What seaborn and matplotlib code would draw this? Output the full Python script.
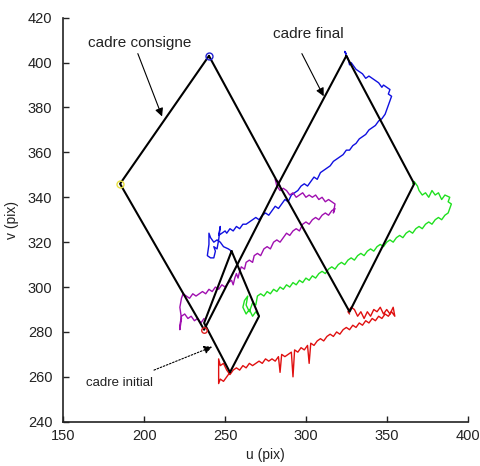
import matplotlib
matplotlib.use("Agg")
import matplotlib.pyplot as plt
import seaborn as sns
import pandas as pd

# Image-plane frames (u, v in pixels), closed quadrilaterals
consigne_u = [240, 283, 237, 185, 240]
consigne_v = [403, 346, 281, 346, 403]
final_u = [325, 367, 327, 283, 325]
final_v = [403, 346, 289, 346, 403]
initial_u = [254, 271, 253, 237, 254]
initial_v = [316, 287, 262, 284, 316]

# Tracked feature-point trajectories
blue_u = [254, 252, 249, 247, 245, 243, 241, 240, 240, 239, 241, 243, 244, 243, 245, 246, 247, 246, 248, 250,
          251, 253, 255, 257, 259, 261, 263, 265, 267, 269, 271, 273, 275, 277, 279, 281, 283, 285, 287, 289,
          291, 293, 295, 297, 299, 301, 303, 305, 307, 309, 311, 313, 315, 317, 319, 321, 323, 325, 327, 329,
          331, 333, 335, 337, 339, 341, 343, 345, 347, 349, 350, 351, 352, 353, 351, 352, 350, 348, 347, 345,
          343, 341, 339, 337, 335, 333, 331, 329, 328, 327, 326, 325, 324, 325]
blue_v = [316, 317, 318, 320, 321, 320, 322, 324, 319, 314, 313, 313, 316, 318, 317, 321, 327, 323, 324, 325,
          324, 326, 325, 327, 326, 328, 328, 329, 330, 331, 330, 332, 333, 332, 334, 336, 335, 337, 339, 338,
          341, 342, 343, 345, 346, 345, 347, 349, 348, 351, 352, 353, 354, 356, 357, 358, 359, 361, 361, 363,
          364, 366, 367, 368, 370, 371, 372, 374, 375, 377, 379, 381, 383, 385, 386, 388, 389, 390, 389, 391,
          392, 393, 394, 393, 395, 396, 397, 399, 400, 399, 402, 403, 405, 404]

magenta_u = [237, 235, 233, 231, 229, 227, 225, 223, 222, 222, 223, 222, 223, 224, 226, 228, 230, 232, 234, 236,
             238, 240, 242, 244, 246, 248, 250, 252, 254, 255, 256, 257, 258, 259, 260, 262, 263, 265, 267, 268,
             270, 272, 274, 276, 278, 280, 282, 284, 286, 288, 290, 292, 294, 296, 298, 300, 302, 304, 306, 308,
             310, 312, 314, 316, 318, 317, 318, 316, 314, 312, 310, 308, 306, 304, 302, 300, 298, 296, 294, 292,
             290, 288, 286, 284, 282, 281, 283, 284]
magenta_v = [286, 284, 286, 285, 287, 286, 288, 287, 283, 281, 286, 291, 295, 297, 296, 295, 297, 296, 297, 298,
             297, 299, 298, 300, 299, 301, 300, 302, 303, 301, 304, 306, 304, 307, 309, 308, 311, 312, 311, 314,
             315, 314, 317, 318, 317, 320, 321, 320, 322, 324, 323, 325, 326, 325, 328, 329, 328, 330, 331, 330,
             332, 333, 332, 334, 335, 333, 337, 338, 339, 338, 340, 339, 341, 340, 341, 340, 342, 341, 340, 342,
             341, 343, 344, 343, 345, 348, 347, 345]

green_u = [271, 269, 267, 265, 263, 261, 262, 264, 263, 265, 267, 269, 270, 272, 274, 276, 278, 280, 282, 284,
           286, 288, 290, 292, 294, 296, 298, 300, 302, 304, 306, 308, 310, 312, 314, 316, 318, 320, 322, 324,
           326, 328, 330, 332, 334, 336, 338, 340, 342, 344, 346, 348, 350, 352, 354, 356, 358, 360, 362, 364,
           366, 368, 370, 372, 374, 376, 378, 380, 382, 384, 386, 388, 389, 390, 388, 389, 386, 384, 382, 380,
           378, 376, 374, 372, 370, 369, 367, 366]
green_v = [287, 289, 287, 290, 288, 291, 294, 296, 292, 289, 293, 292, 296, 297, 296, 298, 297, 299, 298, 300,
           299, 301, 300, 302, 301, 303, 302, 304, 303, 305, 304, 306, 307, 306, 308, 309, 308, 310, 311, 310,
           312, 313, 312, 314, 315, 314, 316, 317, 316, 318, 319, 318, 320, 321, 320, 322, 323, 322, 324, 325,
           324, 326, 327, 326, 328, 329, 328, 330, 331, 330, 332, 333, 335, 337, 338, 340, 341, 339, 342, 341,
           343, 340, 342, 341, 343, 345, 347, 346]

red_u = [253, 251, 249, 247, 246, 246, 246, 247, 249, 251, 253, 255, 257, 259, 261, 263, 265, 267, 269, 271,
         273, 275, 277, 279, 281, 283, 284, 285, 287, 289, 291, 292, 293, 295, 297, 299, 301, 302, 303, 305,
         307, 309, 311, 313, 315, 317, 319, 321, 323, 325, 327, 329, 331, 333, 335, 337, 339, 341, 343, 345,
         347, 349, 351, 353, 355, 354, 352, 350, 348, 346, 344, 342, 340, 338, 336, 334, 332, 330, 328, 326,
         327]
red_v = [262, 260, 258, 259, 257, 262, 268, 265, 266, 263, 261, 263, 264, 263, 265, 264, 266, 265, 266, 267,
         266, 268, 267, 268, 267, 269, 262, 270, 269, 270, 271, 260, 272, 271, 273, 272, 274, 266, 275, 274,
         276, 277, 276, 278, 279, 278, 280, 279, 281, 282, 281, 283, 282, 284, 283, 285, 284, 286, 285, 287,
         286, 288, 287, 289, 287, 291, 288, 290, 288, 291, 289, 290, 287, 289, 286, 289, 287, 290, 291, 289,
         288]

x_ticks = [150, 200, 250, 300, 350, 400]
y_ticks = [240, 260, 280, 300, 320, 340, 360, 380, 400, 420]

sns.set_theme(style="white")
plt.rcParams["font.family"] = ["Liberation Sans", "DejaVu Sans"]

fig = plt.figure(figsize=(4.81, 4.66), dpi=100)
ax = fig.add_axes([0.132, 0.095, 0.840, 0.867])

trajectories = [
    (blue_u, blue_v, "#1010e0"),
    (magenta_u, magenta_v, "#a010b0"),
    (green_u, green_v, "#20e020"),
    (red_u, red_v, "#e01010"),
]
for u, v, col in trajectories:
    df = pd.DataFrame({"u": u, "v": v})
    sns.lineplot(data=df, x="u", y="v", sort=False, estimator=None, color=col,
                 linewidth=1.0, ax=ax)

for u, v in [(consigne_u, consigne_v), (final_u, final_v), (initial_u, initial_v)]:
    df = pd.DataFrame({"u": u, "v": v})
    sns.lineplot(data=df, x="u", y="v", sort=False, estimator=None, color="black",
                 linewidth=1.5, ax=ax)

# desired-frame point markers
ax.plot(consigne_u[0], consigne_v[0], "o", mfc="none", mec="#2020d0", ms=5, mew=1)
ax.plot(consigne_u[3], consigne_v[3], "o", mfc="none", mec="#e8e040", ms=5, mew=1)
ax.plot(consigne_u[2], consigne_v[2], "o", mfc="none", mec="#e02020", ms=4, mew=1)

txt_kw = dict(color="#222222", ha="center", va="center")
arrow = dict(arrowstyle="-|>", color="black", lw=0.8, mutation_scale=12, shrinkA=0, shrinkB=0)

ax.text(197, 408.6, "cadre consigne", fontsize=11, **txt_kw)
ax.annotate("", xy=(211, 376), xytext=(196, 404), arrowprops=arrow)

ax.text(301.5, 412.6, "cadre final", fontsize=11, **txt_kw)
ax.annotate("", xy=(311, 385), xytext=(297.5, 404), arrowprops=arrow)

ax.text(184.7, 257.2, "cadre initial", fontsize=9.5, **txt_kw)
ax.annotate("", xy=(242, 273.4), xytext=(206, 263),
            arrowprops=dict(arrow, linestyle=(0, (1.5, 1.5))))

ax.set_xlim(150, 400)
ax.set_ylim(240, 420)
ax.set_xticks(x_ticks)
ax.set_yticks(y_ticks)
ax.set_xlabel("u (pix)", fontsize=10, labelpad=4, color="#222222")
ax.set_ylabel("v (pix)", fontsize=10, labelpad=6, color="#222222")
ax.tick_params(axis="both", direction="in", length=4, width=1, labelsize=10.5,
               colors="#222222", left=True, bottom=True)
ax.tick_params(axis="x", pad=5)
ax.tick_params(axis="y", pad=8)
for side in ["top", "right"]:
    ax.spines[side].set_visible(False)
for side in ["left", "bottom"]:
    ax.spines[side].set_color("#222222")
    ax.spines[side].set_linewidth(1.2)
ax.set_facecolor("white")
fig.patch.set_facecolor("white")

fig.savefig("out.png", dpi=100)
